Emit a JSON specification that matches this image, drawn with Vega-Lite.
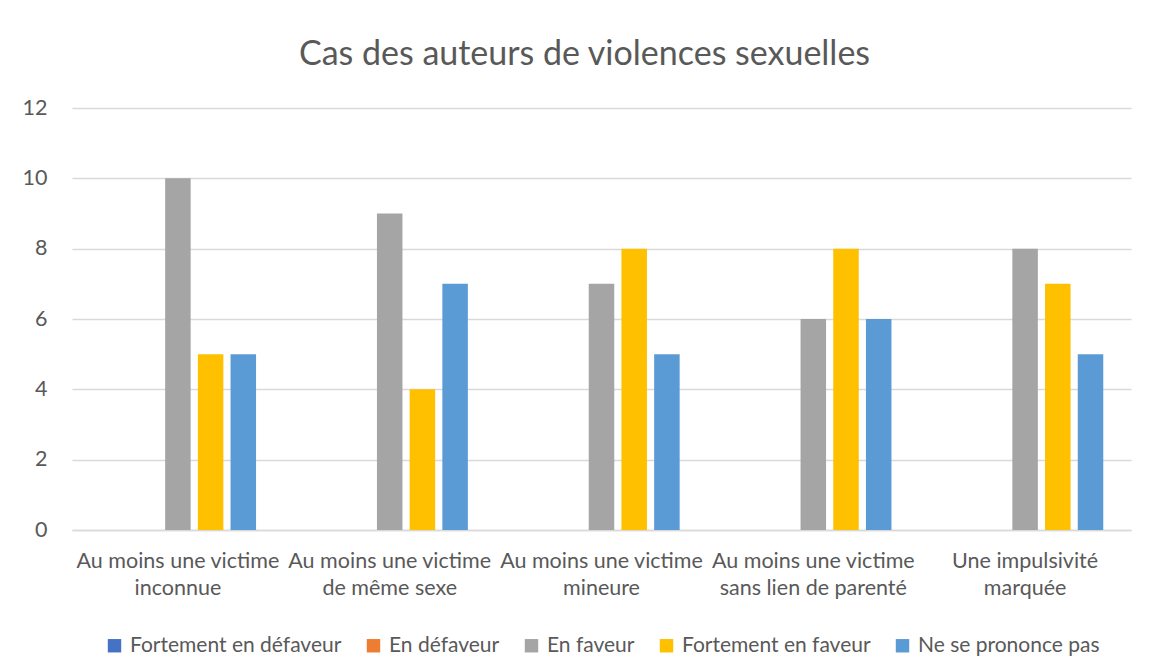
{
  "$schema": "https://vega.github.io/schema/vega-lite/v6.json",
  "width": 1059,
  "height": 422,
  "autosize": {"type": "none"},
  "padding": {"left": 72, "top": 108, "right": 20, "bottom": 142},
  "background": "white",
  "title": {
    "text": "Cas des auteurs de violences sexuelles",
    "fontSize": 34,
    "font": "Lato",
    "fontWeight": "normal",
    "color": "#595959",
    "anchor": "middle",
    "frame": "group",
    "dx": -17,
    "offset": 25
  },
  "data": {
    "values": [
      {"critere": "Au moins une victime inconnue", "avis": "Fortement en défaveur", "n": 0},
      {"critere": "Au moins une victime inconnue", "avis": "En défaveur", "n": 0},
      {"critere": "Au moins une victime inconnue", "avis": "En faveur", "n": 10},
      {"critere": "Au moins une victime inconnue", "avis": "Fortement en faveur", "n": 5},
      {"critere": "Au moins une victime inconnue", "avis": "Ne se prononce pas", "n": 5},
      {"critere": "Au moins une victime de même sexe", "avis": "Fortement en défaveur", "n": 0},
      {"critere": "Au moins une victime de même sexe", "avis": "En défaveur", "n": 0},
      {"critere": "Au moins une victime de même sexe", "avis": "En faveur", "n": 9},
      {"critere": "Au moins une victime de même sexe", "avis": "Fortement en faveur", "n": 4},
      {"critere": "Au moins une victime de même sexe", "avis": "Ne se prononce pas", "n": 7},
      {"critere": "Au moins une victime mineure", "avis": "Fortement en défaveur", "n": 0},
      {"critere": "Au moins une victime mineure", "avis": "En défaveur", "n": 0},
      {"critere": "Au moins une victime mineure", "avis": "En faveur", "n": 7},
      {"critere": "Au moins une victime mineure", "avis": "Fortement en faveur", "n": 8},
      {"critere": "Au moins une victime mineure", "avis": "Ne se prononce pas", "n": 5},
      {"critere": "Au moins une victime sans lien de parenté", "avis": "Fortement en défaveur", "n": 0},
      {"critere": "Au moins une victime sans lien de parenté", "avis": "En défaveur", "n": 0},
      {"critere": "Au moins une victime sans lien de parenté", "avis": "En faveur", "n": 6},
      {"critere": "Au moins une victime sans lien de parenté", "avis": "Fortement en faveur", "n": 8},
      {"critere": "Au moins une victime sans lien de parenté", "avis": "Ne se prononce pas", "n": 6},
      {"critere": "Une impulsivité marquée", "avis": "Fortement en défaveur", "n": 0},
      {"critere": "Une impulsivité marquée", "avis": "En défaveur", "n": 0},
      {"critere": "Une impulsivité marquée", "avis": "En faveur", "n": 8},
      {"critere": "Une impulsivité marquée", "avis": "Fortement en faveur", "n": 7},
      {"critere": "Une impulsivité marquée", "avis": "Ne se prononce pas", "n": 5}
    ]
  },
  "mark": {"type": "bar"},
  "encoding": {
    "x": {
      "field": "critere",
      "type": "nominal",
      "sort": null,
      "title": null,
      "scale": {"paddingInner": 0.228, "paddingOuter": 0.114},
      "axis": {
        "labelAngle": 0,
        "labelFont": "Lato",
        "labelFontSize": 21.5,
        "labelColor": "#595959",
        "labelLimit": 0,
        "labelOverlap": false,
        "labelPadding": 20,
        "labelLineHeight": 27,
        "labelBaseline": "top",
        "ticks": false,
        "domainColor": "#d9d9d9",
        "domainWidth": 1.5,
        "labelExpr": "datum.value == 'Au moins une victime inconnue' ? ['Au moins une victime', 'inconnue'] : datum.value == 'Au moins une victime de même sexe' ? ['Au moins une victime', 'de même sexe'] : datum.value == 'Au moins une victime mineure' ? ['Au moins une victime', 'mineure'] : datum.value == 'Au moins une victime sans lien de parenté' ? ['Au moins une victime', 'sans lien de parenté'] : ['Une impulsivité', 'marquée']"
      }
    },
    "xOffset": {
      "field": "avis",
      "type": "nominal",
      "scale": {
        "domain": ["Fortement en défaveur", "En défaveur", "En faveur", "Fortement en faveur", "Ne se prononce pas"],
        "paddingInner": 0.22,
        "paddingOuter": 0.11
      }
    },
    "y": {
      "field": "n",
      "type": "quantitative",
      "title": null,
      "scale": {"domain": [0, 12]},
      "axis": {
        "values": [0, 2, 4, 6, 8, 10, 12],
        "labelFont": "Lato",
        "labelFontSize": 21.5,
        "labelColor": "#595959",
        "labelPadding": 25,
        "ticks": false,
        "domain": false,
        "gridColor": "#d9d9d9",
        "gridWidth": 1.5
      }
    },
    "color": {
      "field": "avis",
      "type": "nominal",
      "title": null,
      "scale": {
        "domain": ["Fortement en défaveur", "En défaveur", "En faveur", "Fortement en faveur", "Ne se prononce pas"],
        "range": ["#4472C4", "#ED7D31", "#A5A5A5", "#FFC000", "#5B9BD5"]
      },
      "legend": {
        "orient": "bottom",
        "direction": "horizontal",
        "symbolType": "square",
        "symbolSize": 180,
        "symbolStrokeWidth": 0,
        "labelFont": "Lato",
        "labelFontSize": 21,
        "labelColor": "#595959",
        "labelLimit": 0,
        "columnPadding": 21,
        "symbolOffset": 0,
        "labelOffset": 5,
        "offset": 36
      }
    }
  },
  "config": {
    "view": {"stroke": null},
    "legend": {"layout": {"bottom": {"anchor": "middle"}}}
  }
}
